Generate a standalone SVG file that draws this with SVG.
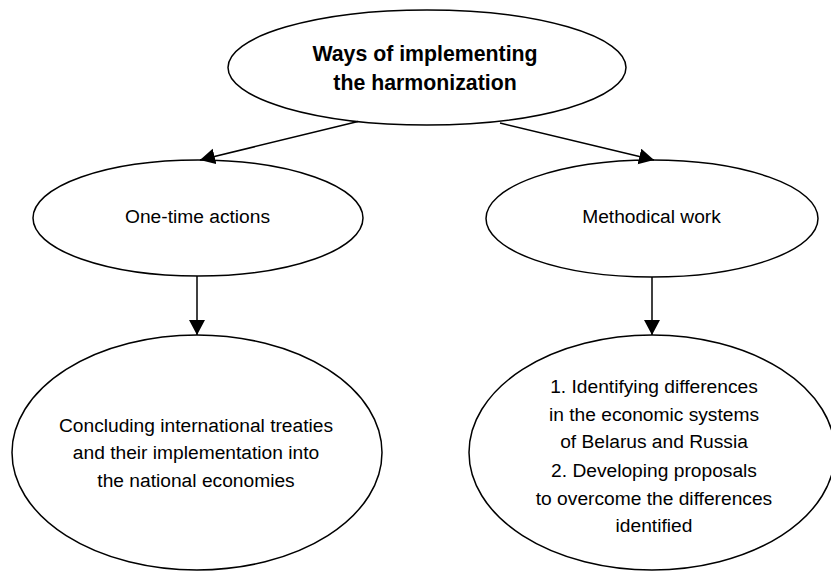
<svg xmlns="http://www.w3.org/2000/svg" width="831" height="572" viewBox="0 0 831 572">
<style>
.node ellipse{fill:#fff;stroke:#000;stroke-width:1.5}
.t{font-family:"Liberation Sans",Arial,sans-serif;font-size:19.2px;fill:#000;text-anchor:middle}
.tt{font-family:"Liberation Sans",Arial,sans-serif;font-size:21.3px;font-weight:bold;fill:#000;text-anchor:middle}
.conn line{stroke:#000;stroke-width:1.5;fill:none;marker-end:url(#ah)}
</style>
<defs>
<marker id="ah" markerWidth="16" markerHeight="17" refX="15" refY="8" orient="auto" markerUnits="userSpaceOnUse">
<path d="M0,0 L15,8 L0,16 Z" fill="#000"/>
</marker>
</defs>
<rect width="831" height="572" fill="#fff"/>
<g id="top" class="node">
<ellipse cx="427" cy="67.5" rx="199" ry="57.5"/>
<text class="tt" x="425" y="61">Ways of implementing</text>
<text class="tt" x="425" y="90">the harmonization</text>
</g>
<g id="onetime" class="node">
<ellipse cx="198" cy="218" rx="165" ry="58"/>
<text class="t" x="197.5" y="223">One-time actions</text>
</g>
<g id="methodical" class="node">
<ellipse cx="652" cy="218.5" rx="166" ry="58.5"/>
<text class="t" x="651.5" y="223">Methodical work</text>
</g>
<g id="treaties" class="node">
<ellipse cx="197" cy="452.5" rx="185" ry="117.5"/>
<text class="t" x="196" y="431.5">Concluding international treaties</text>
<text class="t" x="196" y="459">and their implementation into</text>
<text class="t" x="196" y="486.5">the national economies</text>
</g>
<g id="steps" class="node">
<ellipse cx="652" cy="452.5" rx="183" ry="117.5"/>
<text class="t" x="654" y="392.5">1. Identifying differences</text>
<text class="t" x="654" y="420.5">in the economic systems</text>
<text class="t" x="654" y="448">of Belarus and Russia</text>
<text class="t" x="654" y="476.5">2. Developing proposals</text>
<text class="t" x="654" y="504.5">to overcome the differences</text>
<text class="t" x="654" y="532">identified</text>
</g>
<g id="connectors" class="conn">
<line x1="358" y1="121.5" x2="200" y2="160"/>
<line x1="500" y1="123" x2="654" y2="160"/>
<line x1="197" y1="276" x2="197" y2="335"/>
<line x1="652" y1="277" x2="652" y2="335"/>
</g>
</svg>
